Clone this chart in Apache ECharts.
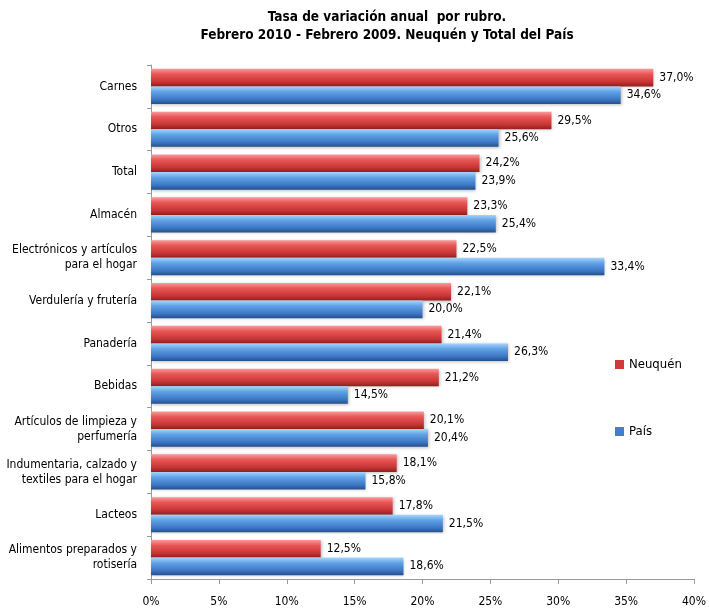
<!DOCTYPE html>
<html><head><meta charset="utf-8">
<script src="https://cdn.jsdelivr.net/npm/echarts@6/dist/echarts.min.js"></script>
<style>html,body{margin:0;padding:0;background:#fff}#c{width:709px;height:609px}</style>
</head><body><div id="c"></div>
<script>
var categories = ["Carnes","Otros","Total","Almacén","Electrónicos y artículos\npara el hogar","Verdulería y frutería","Panadería","Bebidas","Artículos de limpieza y\nperfumería","Indumentaria, calzado y\ntextiles para el hogar","Lacteos","Alimentos preparados y\nrotisería"];
var neuquen = [37.0,29.5,24.2,23.3,22.5,22.1,21.4,21.2,20.1,18.1,17.8,12.5];
var pais = [34.6,25.6,23.9,25.4,33.4,20.0,26.3,14.5,20.4,15.8,21.5,18.6];
var xTicks = [0,5,10,15,20,25,30,35,40];

var FONT = "'Liberation Sans Narrow','DejaVu Sans Condensed','Arial Narrow',sans-serif";
function grad(c1,c2,c3,c4){
  return new echarts.graphic.LinearGradient(0,0,0,1,[
    {offset:0,color:c1},{offset:0.3,color:c2},{offset:0.75,color:c3},{offset:1,color:c4}]);
}
var redG = grad('#f99a9a','#e95656','#c63434','#8e2020');
var blueG = grad('#a6d6fb','#62a2e6','#3b76c4','#244f8a');
function fmt(v){return v.toFixed(1).replace('.',',')+'%';}
var chart = echarts.init(document.getElementById('c'));
chart.setOption({
  animation:false,
  backgroundColor:'#fff',
  title:{
    text:'Tasa de variación anual  por rubro.\nFebrero 2010 - Febrero 2009. Neuquén y Total del País',
    left:382, top:3, textAlign:'center',
    textStyle:{fontFamily:FONT,fontWeight:'bold',fontSize:13.5,color:'#000',lineHeight:18}
  },
  legend:{
    orient:'vertical', left:610, top:353, itemGap:54,
    itemWidth:9, itemHeight:9, icon:'rect',
    textStyle:{fontFamily:FONT,fontSize:13,color:'#000'},
    data:[{name:'Neuquén',itemStyle:{color:'#d23a3a'}},{name:'País',itemStyle:{color:'#3f7fcf'}}]
  },
  grid:{left:151,right:14,top:65,bottom:30,containLabel:false},
  xAxis:{
    type:'value',min:0,max:40,interval:5,
    axisLine:{show:true,lineStyle:{color:'#999'}},
    axisTick:{show:true,length:5,inside:false,lineStyle:{color:'#999'}},
    splitLine:{show:false},
    axisLabel:{fontFamily:FONT,fontSize:12,color:'#000',margin:17,
      formatter:function(v){return xTicks.indexOf(v)>=0? v+'%':'';}}
  },
  yAxis:{
    type:'category',data:categories,inverse:true,
    axisLine:{show:true,lineStyle:{color:'#999'}},
    axisTick:{show:true,length:4,lineStyle:{color:'#999'}},
    axisLabel:{fontFamily:FONT,fontSize:12,color:'#000',margin:14,align:'right',lineHeight:15}
  },
  series:[
    {name:'Neuquén',type:'bar',data:neuquen,barGap:'0%',barCategoryGap:'18%',
      itemStyle:{color:redG,shadowColor:'rgba(0,0,0,0.25)',shadowBlur:3,shadowOffsetX:1,shadowOffsetY:1},
      label:{show:true,position:'right',distance:6,fontFamily:FONT,fontSize:12,color:'#000',
        formatter:function(p){return fmt(p.value);}}},
    {name:'País',type:'bar',data:pais,
      itemStyle:{color:blueG,shadowColor:'rgba(0,0,0,0.25)',shadowBlur:3,shadowOffsetX:1,shadowOffsetY:1},
      label:{show:true,position:'right',distance:6,fontFamily:FONT,fontSize:12,color:'#000',
        formatter:function(p){return fmt(p.value);}}}
  ]
});
</script></body></html>
